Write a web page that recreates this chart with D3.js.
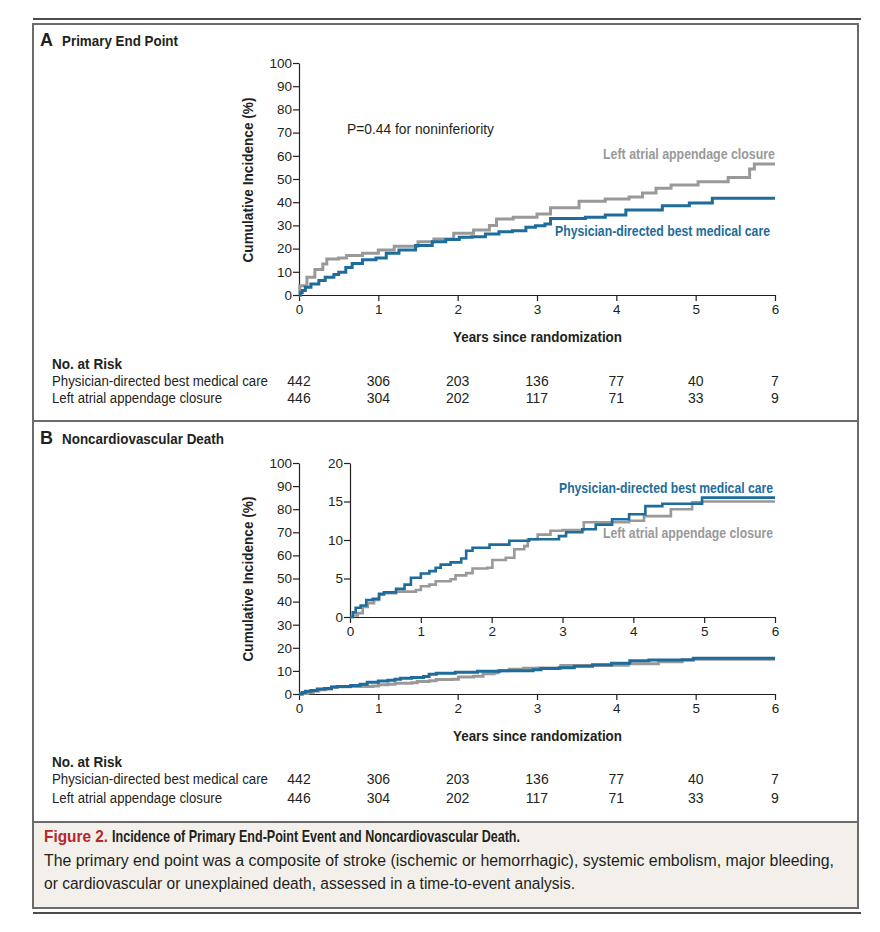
<!DOCTYPE html>
<html>
<head>
<meta charset="utf-8">
<script src="https://cdn.jsdelivr.net/npm/d3@7"></script>
<style>
  body { margin: 0; background: #fff; }
  svg text { font-family: "Liberation Sans", Arial, sans-serif; fill: #231f20; }
  .axis text { font-size: 13.5px; fill: #231f20; }
  .axis path, .axis line { stroke: #231f20; stroke-width: 1.2; }
  .bold { font-weight: bold; }
</style>
</head>
<body>
<svg id="chart" width="880" height="932"></svg>
<script>
// data: [years, cumulative incidence %]
const years = [0, 1, 2, 3, 4, 5, 6];
const primaryMedical = [[0,0],[0.02,1],[0.04,1.9],[0.08,3.3],[0.15,4.7],[0.25,6.3],[0.33,7.6],[0.44,8.8],[0.5,9.8],
  [0.59,11.9],[0.67,13.6],[0.8,15.2],[0.97,16],[1.1,18],[1.26,19.4],[1.47,21.3],[1.68,23],[1.85,23.9],[2.02,24.9],
  [2.18,25.1],[2.35,26.3],[2.52,27.3],[2.69,27.7],[2.86,29.2],[2.98,29.9],[3.1,30.6],[3.17,33],[3.61,33.5],
  [3.86,34.5],[4.12,36.6],[4.58,38.5],[4.92,39.7],[5.21,41.7],[6,41.7]];
const primaryClosure = [[0,0],[0.01,4],[0.1,7.6],[0.2,11],[0.3,13.4],[0.35,15.5],[0.5,16],[0.6,17],[0.8,18],
  [1.0,19.4],[1.2,21],[1.5,23],[1.7,24.1],[1.95,26.6],[2.2,28],[2.4,30],[2.49,32.8],[2.7,33.5],[3.0,34.9],
  [3.17,37.6],[3.53,40.4],[3.86,41.4],[4.16,42.2],[4.33,44],[4.5,46],[4.69,47.4],[5.03,48.8],[5.41,50.6],
  [5.68,54.3],[5.74,56.5],[6,56.5]];
const deathMedical = [[0,0],[0.04,0.6],[0.08,1.2],[0.15,1.5],[0.23,2.2],[0.32,2.35],[0.41,3.0],[0.48,3.2],
  [0.65,3.65],[0.77,4.2],[0.86,5.1],[1.0,5.65],[1.12,5.96],[1.21,6.4],[1.28,6.8],[1.42,7.1],[1.57,7.6],
  [1.64,8.6],[1.73,9.0],[1.97,9.4],[2.25,9.9],[2.53,10.1],[2.95,10.5],[3.05,11],[3.28,11.4],[3.47,12.0],
  [3.7,12.7],[3.94,13.35],[4.17,14.4],[4.41,14.7],[4.97,15.5],[6,15.5]];
const deathClosure = [[0,0],[0.04,0.2],[0.11,0.5],[0.18,1.3],[0.25,1.8],[0.34,2.2],[0.41,2.9],[0.48,3.1],
  [0.65,3.3],[0.93,3.5],[1.0,4.0],[1.12,4.2],[1.21,4.65],[1.42,4.9],[1.49,5.4],[1.64,5.7],[1.73,6.3],
  [1.94,6.4],[2.01,7.4],[2.2,7.7],[2.32,8.8],[2.46,9.2],[2.51,10.1],[2.65,10.7],[2.83,11.2],[3.0,11.3],
  [3.3,12.3],[3.94,12.5],[4.15,13.1],[4.53,14.0],[4.83,14.9],[4.97,15.0],[6,15.0]];
const riskMedical = [442, 306, 203, 136, 77, 40, 7];
const riskClosure = [446, 304, 202, 117, 71, 33, 9];
const seriesNames = ["Physician-directed best medical care", "Left atrial appendage closure"];

const blue = "#1d6c9c";
const gray = "#999999";

const svg = d3.select("#chart");

// squeeze a text to a given width (the original face is a condensed one)
function fit(sel, w) {
  sel.attr("textLength", w).attr("lengthAdjust", "spacingAndGlyphs");
}

// frame
svg.append("line").attr("x1", 33).attr("x2", 861).attr("y1", 19).attr("y2", 19)
  .attr("stroke", "#111").attr("stroke-width", 1.5);
svg.append("line").attr("x1", 33).attr("x2", 861).attr("y1", 913).attr("y2", 913)
  .attr("stroke", "#111").attr("stroke-width", 1.5);
svg.append("rect").attr("x", 33).attr("y", 822).attr("width", 825).attr("height", 86).attr("fill", "#f3f0eb");
svg.append("rect").attr("x", 33).attr("y", 24).attr("width", 825).attr("height", 884)
  .attr("fill", "none").attr("stroke", "#6b6b6b").attr("stroke-width", 2);
svg.append("line").attr("x1", 33).attr("x2", 858).attr("y1", 421).attr("y2", 421)
  .attr("stroke", "#6b6b6b").attr("stroke-width", 2);
svg.append("line").attr("x1", 33).attr("x2", 858).attr("y1", 822).attr("y2", 822)
  .attr("stroke", "#6b6b6b").attr("stroke-width", 2);

function stepLine(x, y) {
  return d3.line().x(d => x(d[0])).y(d => y(d[1])).curve(d3.curveStepAfter);
}

function drawAxes(g, x, y, yTicks) {
  g.append("g").attr("class", "axis")
    .attr("transform", "translate(0," + y.range()[0] + ")")
    .call(d3.axisBottom(x).tickValues(years).tickFormat(d3.format("d"))
      .tickSize(6).tickSizeOuter(0).tickPadding(3));
  g.append("g").attr("class", "axis")
    .attr("transform", "translate(" + x.range()[0] + ",0)")
    .call(d3.axisLeft(y).tickValues(yTicks).tickFormat(d3.format("d"))
      .tickSize(6).tickSizeOuter(0).tickPadding(1));
  g.selectAll(".axis .domain").attr("stroke", "#231f20");
  g.selectAll(".axis text").attr("font-family", null).attr("font-size", null);
}

function riskTable(top, gap) {
  const x = d3.scaleLinear().domain([0, 6]).range([299, 775]);
  svg.append("text").attr("class", "bold").attr("x", 52).attr("y", top).attr("font-size", 15)
    .text("No. at Risk").call(fit, 70);
  [riskMedical, riskClosure].forEach((row, i) => {
    const yy = top + 17 + i * gap;
    svg.append("text").attr("x", 52).attr("y", yy).attr("font-size", 14)
      .text(seriesNames[i]).call(fit, i === 0 ? 216 : 170);
    svg.selectAll(null).data(row).enter().append("text")
      .attr("x", (d, j) => x(years[j])).attr("y", yy)
      .attr("text-anchor", "middle").attr("font-size", 14).text(d => d);
  });
}

function yLabel(cx, cy) {
  svg.append("text").attr("class", "bold")
    .attr("transform", "translate(" + cx + "," + cy + ") rotate(-90)")
    .attr("text-anchor", "middle").attr("font-size", 15).text("Cumulative Incidence (%)").call(fit, 165);
}

// ---- Panel A
svg.append("text").attr("class", "bold").attr("x", 40).attr("y", 46).attr("font-size", 18).text("A");
svg.append("text").attr("class", "bold").attr("x", 62).attr("y", 46).attr("font-size", 15.5)
  .text("Primary End Point").call(fit, 116);

const xA = d3.scaleLinear().domain([0, 6]).range([299, 775]);
const yA = d3.scaleLinear().domain([0, 100]).range([295, 63]);
const gA = svg.append("g");
drawAxes(gA, xA, yA, d3.range(0, 101, 10));
gA.append("path").datum(primaryClosure).attr("d", stepLine(xA, yA))
  .attr("fill", "none").attr("stroke", gray).attr("stroke-width", 3);
gA.append("path").datum(primaryMedical).attr("d", stepLine(xA, yA))
  .attr("fill", "none").attr("stroke", blue).attr("stroke-width", 3);
yLabel(253, 180);
svg.append("text").attr("x", 347).attr("y", 134).attr("font-size", 14)
  .text("P=0.44 for noninferiority").call(fit, 147);
svg.append("text").attr("class", "bold").attr("x", 603).attr("y", 159)
  .attr("font-size", 15).style("fill", gray).text(seriesNames[1]).call(fit, 172);
svg.append("text").attr("class", "bold").attr("x", 555).attr("y", 236)
  .attr("font-size", 15).style("fill", blue).text(seriesNames[0]).call(fit, 215);
svg.append("text").attr("class", "bold").attr("x", 453).attr("y", 342)
  .attr("font-size", 15).text("Years since randomization").call(fit, 169);
riskTable(369, 17);

// ---- Panel B
svg.append("text").attr("class", "bold").attr("x", 40).attr("y", 444).attr("font-size", 18).text("B");
svg.append("text").attr("class", "bold").attr("x", 62).attr("y", 444).attr("font-size", 15.5)
  .text("Noncardiovascular Death").call(fit, 162);

const xB = d3.scaleLinear().domain([0, 6]).range([299, 775]);
const yB = d3.scaleLinear().domain([0, 100]).range([694, 463]);
const gB = svg.append("g");
drawAxes(gB, xB, yB, d3.range(0, 101, 10));
gB.append("path").datum(deathClosure).attr("d", stepLine(xB, yB))
  .attr("fill", "none").attr("stroke", gray).attr("stroke-width", 3);
gB.append("path").datum(deathMedical).attr("d", stepLine(xB, yB))
  .attr("fill", "none").attr("stroke", blue).attr("stroke-width", 3);
yLabel(253, 579);

// inset
const xI = d3.scaleLinear().domain([0, 6]).range([350, 775]);
const yI = d3.scaleLinear().domain([0, 20]).range([617, 463]);
const gI = svg.append("g");
drawAxes(gI, xI, yI, d3.range(0, 21, 5));
gI.append("path").datum(deathClosure).attr("d", stepLine(xI, yI))
  .attr("fill", "none").attr("stroke", gray).attr("stroke-width", 2.6);
gI.append("path").datum(deathMedical).attr("d", stepLine(xI, yI))
  .attr("fill", "none").attr("stroke", blue).attr("stroke-width", 2.6);
svg.append("text").attr("class", "bold").attr("x", 559).attr("y", 493)
  .attr("font-size", 15).style("fill", blue).text(seriesNames[0]).call(fit, 214);
svg.append("text").attr("class", "bold").attr("x", 603).attr("y", 538)
  .attr("font-size", 15).style("fill", gray).text(seriesNames[1]).call(fit, 170);

svg.append("text").attr("class", "bold").attr("x", 453).attr("y", 741)
  .attr("font-size", 15).text("Years since randomization").call(fit, 169);
riskTable(767, 19);

// ---- caption
svg.append("text").attr("class", "bold").attr("x", 44).attr("y", 842).attr("font-size", 17)
  .style("fill", "#b5262e").text("Figure 2.").call(fit, 64);
svg.append("text").attr("class", "bold").attr("x", 112).attr("y", 842).attr("font-size", 17)
  .text("Incidence of Primary End-Point Event and Noncardiovascular Death.").call(fit, 408);
svg.append("text").attr("x", 44).attr("y", 866).attr("font-size", 16)
  .text("The primary end point was a composite of stroke (ischemic or hemorrhagic), systemic embolism, major bleeding,")
  .call(fit, 790);
svg.append("text").attr("x", 44).attr("y", 889).attr("font-size", 16)
  .text("or cardiovascular or unexplained death, assessed in a time-to-event analysis.").call(fit, 531);
</script>
</body>
</html>
